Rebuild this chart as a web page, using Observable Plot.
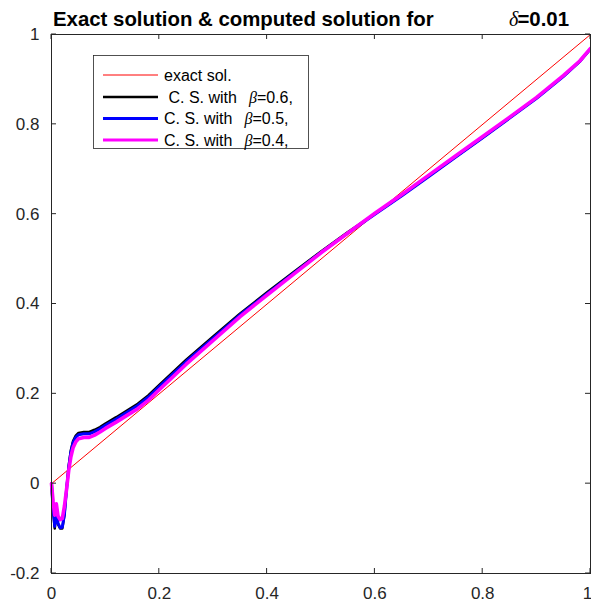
<!DOCTYPE html>
<html>
<head>
<meta charset="utf-8">
<script src="https://cdn.jsdelivr.net/npm/d3@7"></script>
<script src="https://cdn.jsdelivr.net/npm/@observablehq/plot@0.6"></script>
<style>
  html, body { margin: 0; padding: 0; background: #fff; }
  #chart { width: 591px; height: 605px; }
</style>
</head>
<body>
<div id="chart"></div>
<script>
// Sample points shared by the three computed solutions
const xs = [0, 0.003, 0.006, 0.009, 0.012, 0.016, 0.02, 0.024, 0.028, 0.032, 0.036, 0.04, 0.045, 0.05,
  0.06, 0.07, 0.08, 0.09, 0.1, 0.12, 0.14, 0.16, 0.18, 0.2, 0.25, 0.3, 0.35, 0.4, 0.45, 0.5,
  0.55, 0.6, 0.65, 0.7, 0.75, 0.8, 0.85, 0.9, 0.95, 0.98, 1];

// Computed solution, beta = 0.6
const yBeta06 = [0, -0.06, -0.1, -0.06, -0.09, -0.1, -0.1, -0.07, -0.01, 0.04, 0.075, 0.095, 0.107, 0.113,
  0.115, 0.115, 0.12, 0.126, 0.134, 0.148, 0.163, 0.178, 0.197, 0.22, 0.276, 0.328, 0.379, 0.426, 0.472, 0.517,
  0.56, 0.601, 0.642, 0.685, 0.728, 0.771, 0.815, 0.859, 0.908, 0.94, 0.968];

// Computed solution, beta = 0.5
const yBeta05 = [0, -0.055, -0.095, -0.055, -0.088, -0.098, -0.097, -0.068, -0.012, 0.037, 0.071, 0.091, 0.103, 0.109,
  0.111, 0.111, 0.116, 0.122, 0.13, 0.144, 0.159, 0.174, 0.193, 0.216, 0.272, 0.324, 0.376, 0.423, 0.469, 0.515,
  0.558, 0.6, 0.641, 0.684, 0.727, 0.77, 0.814, 0.858, 0.907, 0.94, 0.968];

// Computed solution, beta = 0.4
const yBeta04 = [0, -0.04, -0.07, -0.045, -0.072, -0.08, -0.078, -0.05, -0.012, 0.03, 0.06, 0.08, 0.093, 0.1,
  0.103, 0.103, 0.108, 0.115, 0.123, 0.137, 0.152, 0.167, 0.186, 0.209, 0.266, 0.319, 0.372, 0.42, 0.467, 0.514,
  0.558, 0.602, 0.644, 0.687, 0.73, 0.773, 0.816, 0.86, 0.909, 0.941, 0.969];

// Exact solution u(x) = x
const exactX = [0, 1];
const exactY = [0, 1];

// Axes
const xTicks = [0, 0.2, 0.4, 0.6, 0.8, 1];
const xTickLabels = ["0", "0.2", "0.4", "0.6", "0.8", "1"];
const yTicks = [-0.2, 0, 0.2, 0.4, 0.6, 0.8, 1];
const yTickLabels = ["-0.2", "0", "0.2", "0.4", "0.6", "0.8", "1"];

// Legend entries
const legendLabels = ["exact sol.", " C. S. with", "C. S. with", "C. S. with"];
const legendBetas = [null, "0.6", "0.5", "0.4"];
const seriesColors = ["#ff0000", "#000000", "#0000ff", "#ff00ff"];
const seriesWidths = [1, 2.5, 3, 3.6];

const titleText = "Exact solution & computed solution for";
const deltaSymbol = "δ";
const deltaValue = "=0.01";

const ink = "#262626";
const sans = "'Liberation Sans', Arial, Helvetica, sans-serif";
const serif = "'Liberation Serif', 'Times New Roman', serif";

const toRows = (ys) => xs.map((x, i) => ({x, y: ys[i]}));
const exactRows = exactX.map((x, i) => ({x, y: exactY[i]}));
const computed = [yBeta06, yBeta05, yBeta04].map(toRows);

const xFmt = (d) => xTickLabels[xTicks.indexOf(d)];
const yFmt = (d) => yTickLabels[yTicks.indexOf(d)];

const chart = Plot.plot({
  width: 591,
  height: 605,
  marginLeft: 51,
  marginRight: 1,
  marginTop: 34,
  marginBottom: 32,
  style: {fontFamily: sans, fontSize: "17px", color: ink, background: "#fff"},
  x: {domain: [0, 1]},
  y: {domain: [-0.2, 1]},
  marks: [
    Plot.axisX(xTicks.slice(0, -1), {tickSize: 0, tickPadding: 13, label: null, fontSize: 17, tickFormat: xFmt}),
    Plot.axisX(xTicks.slice(-1), {tickSize: 0, tickPadding: 13, label: null, fontSize: 17, tickFormat: xFmt, dx: -3}),
    Plot.axisY(yTicks, {tickSize: 0, tickPadding: 12, label: null, fontSize: 17, tickFormat: yFmt}),
    Plot.line(exactRows, {x: "x", y: "y", stroke: seriesColors[0], strokeWidth: seriesWidths[0]}),
    Plot.line(computed[0], {x: "x", y: "y", stroke: seriesColors[1], strokeWidth: seriesWidths[1], strokeLinejoin: "round"}),
    Plot.line(computed[1], {x: "x", y: "y", stroke: seriesColors[2], strokeWidth: seriesWidths[2], strokeLinejoin: "round"}),
    Plot.line(computed[2], {x: "x", y: "y", stroke: seriesColors[3], strokeWidth: seriesWidths[3], strokeLinejoin: "round"}),
    Plot.frame({stroke: ink, strokeWidth: 1})
  ]
});

document.getElementById("chart").appendChild(chart);

const svg = d3.select(chart);
const sx = chart.scale("x");
const sy = chart.scale("y");

// Inward ticks on all four sides of the box
const tickLen = 5;
const [x0, x1] = sx.range;
const [yb, yt] = sy.range;
const ticks = svg.append("g").attr("stroke", ink).attr("stroke-width", 1);
xTicks.forEach((v) => {
  const px = sx.apply(v);
  ticks.append("line").attr("x1", px).attr("x2", px).attr("y1", yb).attr("y2", yb - tickLen);
  ticks.append("line").attr("x1", px).attr("x2", px).attr("y1", yt).attr("y2", yt + tickLen);
});
yTicks.forEach((v) => {
  const py = sy.apply(v);
  ticks.append("line").attr("x1", x0).attr("x2", x0 + tickLen).attr("y1", py).attr("y2", py);
  ticks.append("line").attr("x1", x1).attr("x2", x1 - tickLen).attr("y1", py).attr("y2", py);
});

// Title
const title = svg.append("g").attr("fill", "#000").attr("text-anchor", "start");
title.append("text")
  .attr("x", 53).attr("y", 26)
  .attr("font-family", sans).attr("font-size", 20.4).attr("font-weight", "bold")
  .text(titleText);
title.append("text")
  .attr("x", 509).attr("y", 26)
  .attr("font-family", serif).attr("font-size", 20).attr("font-style", "italic")
  .text(deltaSymbol);
title.append("text")
  .attr("x", 569).attr("y", 26).attr("text-anchor", "end")
  .attr("font-family", sans).attr("font-size", 20.4).attr("font-weight", "bold")
  .text(deltaValue);

// Legend
const lg = svg.append("g").attr("text-anchor", "start");
lg.append("rect")
  .attr("x", 93.5).attr("y", 55.5).attr("width", 215).attr("height", 93)
  .attr("fill", "#fff").attr("stroke", ink).attr("stroke-width", 0.8);
const rowY = [75, 97, 118.5, 140];
legendLabels.forEach((label, i) => {
  lg.append("line")
    .attr("x1", 103).attr("x2", 158).attr("y1", rowY[i]).attr("y2", rowY[i])
    .attr("stroke", seriesColors[i]).attr("stroke-width", Math.min(seriesWidths[i], 3));
  const t = lg.append("text")
    .attr("x", 164).attr("y", rowY[i]).attr("dy", "0.36em")
    .attr("font-family", sans).attr("font-size", 16).attr("fill", "#000")
    .attr("xml:space", "preserve")
    .text(label);
  if (legendBetas[i] !== null) {
    t.append("tspan").attr("dx", 12)
      .attr("font-family", serif).attr("font-style", "italic").text("β");
    t.append("tspan").text("=" + legendBetas[i] + ",");
  }
});
</script>
</body>
</html>
